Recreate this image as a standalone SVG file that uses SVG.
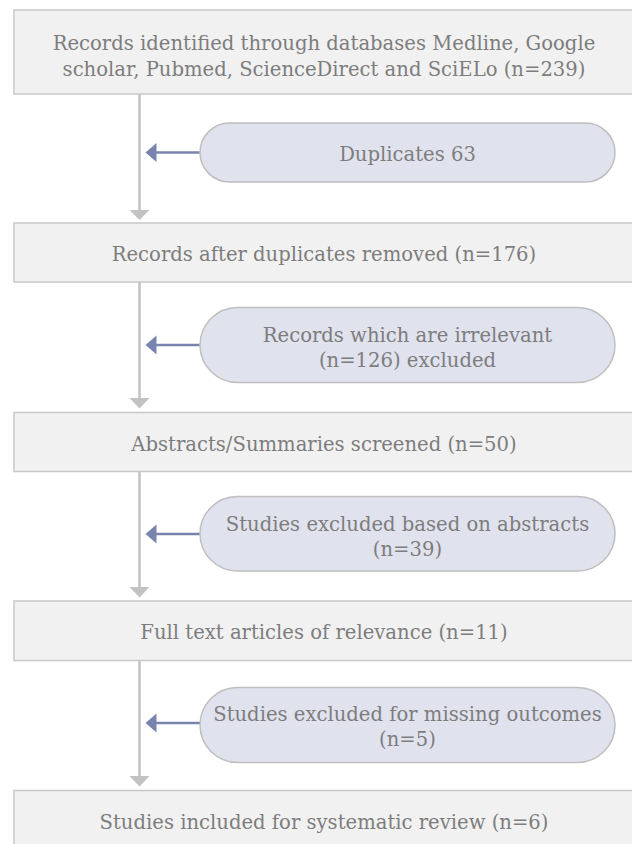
<svg xmlns="http://www.w3.org/2000/svg" width="632" height="844" viewBox="0 0 632 844">
<defs>
<style>
.box{fill:#f1f1f1;stroke:#c8c8c8;stroke-width:1.5}
.pill{fill:#e0e2ee;stroke:#bfbfbf;stroke-width:1.5}
.t{font-family:"DejaVu Serif","Liberation Serif",serif;font-size:19.6px;fill:#7d7d7d;text-anchor:middle}
.flow{stroke:#c2c2c2;stroke-width:2.5;fill:none}
.ex{stroke:#7884ad;stroke-width:2.5;fill:none}
</style>
</defs>
<rect x="0" y="0" width="632" height="844" fill="#ffffff"/>
<g id="connectors">
<line class="flow" x1="139.5" y1="94" x2="139.5" y2="212"/>
<path d="M129.5,210 L149.5,210 L139.5,220 Z" fill="#c2c2c2"/>
<line class="flow" x1="139.5" y1="282" x2="139.5" y2="400"/>
<path d="M129.5,398 L149.5,398 L139.5,408.5 Z" fill="#c2c2c2"/>
<line class="flow" x1="139.5" y1="471.5" x2="139.5" y2="590"/>
<path d="M129.5,587 L149.5,587 L139.5,597.5 Z" fill="#c2c2c2"/>
<line class="flow" x1="139.5" y1="660.5" x2="139.5" y2="778"/>
<path d="M129.5,776 L149.5,776 L139.5,786.5 Z" fill="#c2c2c2"/>
<line class="ex" x1="200" y1="152.5" x2="154" y2="152.5"/>
<path d="M145.5,152.5 L156.5,143 L156.5,162 Z" fill="#7884ad"/>
<line class="ex" x1="200" y1="345" x2="154" y2="345"/>
<path d="M145.5,345 L156.5,335.5 L156.5,354.5 Z" fill="#7884ad"/>
<line class="ex" x1="200" y1="534" x2="154" y2="534"/>
<path d="M145.5,534 L156.5,524.5 L156.5,543.5 Z" fill="#7884ad"/>
<line class="ex" x1="200" y1="723" x2="154" y2="723"/>
<path d="M145.5,723 L156.5,713.5 L156.5,732.5 Z" fill="#7884ad"/>
</g>
<g id="n1">
<rect class="box" x="14" y="10" width="620" height="84"/>
<text class="t" x="324" y="50">Records identified through databases Medline, Google</text>
<text class="t" x="324" y="76">scholar, Pubmed, ScienceDirect and SciELo (n=239)</text>
</g>
<g id="n2">
<rect class="pill" x="200" y="123" width="415" height="59" rx="29.5"/>
<text class="t" x="407.5" y="161">Duplicates 63</text>
</g>
<g id="n3">
<rect class="box" x="14" y="223" width="620" height="59"/>
<text class="t" x="324" y="261">Records after duplicates removed (n=176)</text>
</g>
<g id="n4">
<rect class="pill" x="200" y="307.5" width="415" height="75" rx="37.5"/>
<text class="t" x="407.5" y="342">Records which are irrelevant</text>
<text class="t" x="407.5" y="367">(n=126) excluded</text>
</g>
<g id="n5">
<rect class="box" x="14" y="412.5" width="620" height="59"/>
<text class="t" x="324" y="450.5">Abstracts/Summaries screened (n=50)</text>
</g>
<g id="n6">
<rect class="pill" x="200" y="496.5" width="415" height="74.5" rx="37.25"/>
<text class="t" x="407.5" y="531">Studies excluded based on abstracts</text>
<text class="t" x="407.5" y="556">(n=39)</text>
</g>
<g id="n7">
<rect class="box" x="14" y="601" width="620" height="59.5"/>
<text class="t" x="324" y="639">Full text articles of relevance (n=11)</text>
</g>
<g id="n8">
<rect class="pill" x="200" y="687.5" width="415" height="75" rx="37.5"/>
<text class="t" x="407.5" y="721">Studies excluded for missing outcomes</text>
<text class="t" x="407.5" y="746">(n=5)</text>
</g>
<g id="n9">
<rect class="box" x="14" y="790.5" width="620" height="59"/>
<text class="t" x="324" y="829">Studies included for systematic review (n=6)</text>
</g>
</svg>
